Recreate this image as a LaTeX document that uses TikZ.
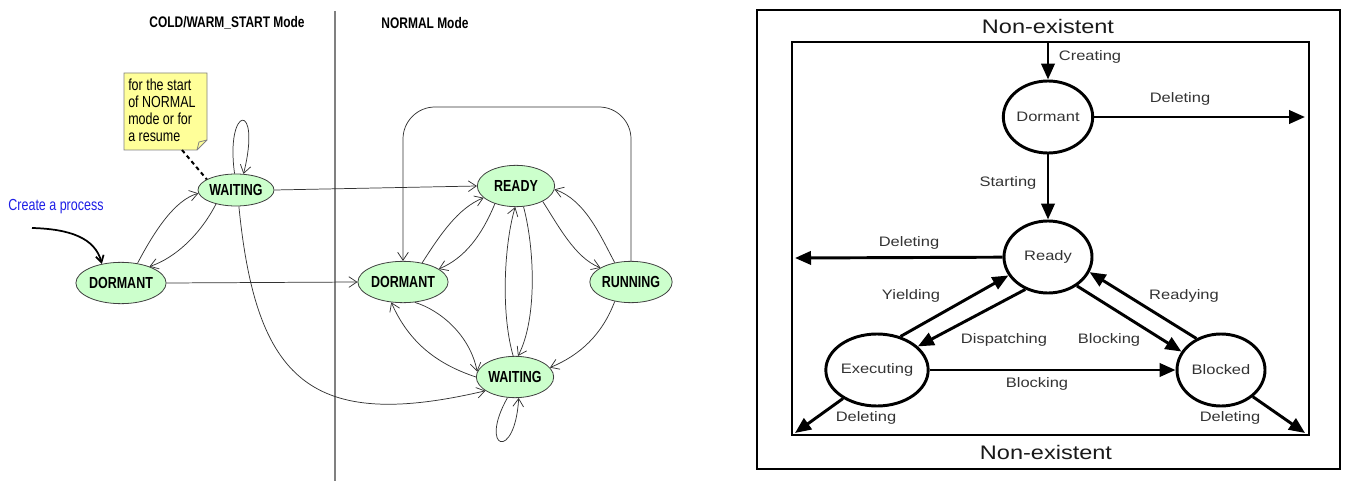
\documentclass[tikz,border=0pt]{standalone}
\usepackage{fontspec}
\setmainfont{Liberation Sans}
\newfontfamily\narrowsans[FakeStretch=0.78]{Liberation Sans}
\newfontfamily\widesans[FakeStretch=1.2]{Liberation Sans}
\usetikzlibrary{shapes.geometric,arrows.meta}

\begin{document}
\begin{tikzpicture}[x=0.75pt,y=-0.75pt,
		lstate/.style={ellipse,draw=black!75,fill=stategreen,line width=0.6pt,inner sep=0pt,
			minimum width=58pt,minimum height=31pt,font=\narrowsans\fontsize{12}{14}\selectfont\bfseries},
		ledge/.style={draw=black!80,line width=0.55pt,-{Straight Barb[length=6pt,width=8pt]}},
		ltitle/.style={font=\narrowsans\fontsize{11.5}{14}\selectfont\bfseries},
		rstate/.style={ellipse,draw,line width=2.2pt,inner sep=0pt,minimum width=66pt,minimum height=54pt,
			font=\widesans\fontsize{10.3}{12}\selectfont,text=black!80},
		rarrow/.style={line width=2.2pt,-{Triangle[length=12pt,width=10pt]}},
		rlabel/.style={font=\widesans\fontsize{10.3}{12}\selectfont,text=black!80},
		rtitle/.style={font=\widesans\fontsize{14.7}{16}\selectfont,text=black!90}]
		\definecolor{stategreen}{HTML}{CCFFCC}
		\definecolor{noteyellow}{HTML}{FFFF99}
		\definecolor{processblue}{HTML}{1E1EE6}
		
		\useasboundingbox (0,0) rectangle (1345,481);
		
		% modes
		\draw[gray,line width=1pt] (335,11) -- (335,481);
		\node[ltitle] (tcold) at (227,23) {COLD/WARM\_START Mode};
		\node[ltitle] (tnorm) at (425,23) {NORMAL Mode};
		
		% note
		\filldraw[fill=noteyellow,draw=gray,line width=0.6pt] (124,73) -- (207,73) -- (207,140) -- (197,150) -- (124,150) -- cycle;
		\draw[gray,line width=0.6pt] (197,150) -- (199,142) -- (207,140);
		\node[anchor=north west,align=left,inner sep=0pt,font=\narrowsans\fontsize{12}{12.75}\selectfont] (note) at (128,79) {for the start\\of NORMAL\\mode or for\\a resume};
		\coordinate (notetip) at (182,150);
		
		% states
		\node[lstate,minimum height=24pt,minimum width=57pt] (wl) at (236,190) {WAITING};
		\node[lstate] (dl) at (121,283) {DORMANT};
		\node[lstate] (rd) at (516,186) {READY};
		\node[lstate] (dn) at (403,282) {DORMANT};
		\node[lstate] (rn) at (631,282) {RUNNING};
		\node[lstate] (wn) at (515,377) {WAITING};
		
		\node[font=\narrowsans\fontsize{12}{14}\selectfont,text=processblue] (create) at (56,207) {Create a process};
		\coordinate (cp) at (32,228);
		
		\draw[black,line width=1.5pt,dash pattern=on 3pt off 2.5pt] (notetip) -- (wl.160);
		\draw[line width=1.3pt,-{Straight Barb[length=5pt,width=6pt]}] (cp) .. controls (70,229) and (95,238) .. (dl.135);
		
		% cold/warm start
		\draw[ledge] (wl.95) .. controls (225,105) and (262,100) .. (wl.65);
		\draw[ledge] (dl.50) .. controls (155,230) and (175,200) .. (wl.185);
		\draw[ledge] (wl.215) .. controls (200,235) and (175,258) .. (dl.30);
		\draw[ledge] (dl.east) -- (dn.west);
		\draw[ledge] (wl.east) -- (rd.west);
		\draw[ledge] (wl.280) .. controls (256,380) and (310,432) .. (wn.205);
		
		% normal
		\draw[ledge,rounded corners=24pt] (rn.north) |- (517,107) -| (dn.north);
		\draw[ledge] (dn.45) .. controls (440,235) and (458,208) .. (rd.200);
		\draw[ledge] (rd.220) .. controls (482,235) and (465,258) .. (dn.20);
		\draw[ledge] (wn.95) .. controls (500,310) and (505,240) .. (rd.268);
		\draw[ledge] (rd.290) .. controls (535,250) and (537,320) .. (wn.82);
		\draw[ledge] (rd.330) .. controls (558,225) and (575,258) .. (rn.155);
		\draw[ledge] (rn.130) .. controls (600,235) and (585,200) .. (rd.355);
		\draw[ledge] (rn.230) .. controls (602,335) and (580,355) .. (wn.15);
		\draw[ledge] (dn.300) .. controls (440,310) and (470,335) .. (wn.172);
		\draw[ledge] (wn.180) .. controls (440,365) and (410,345) .. (dn.240);
		\draw[ledge] (wn.250) .. controls (478,450) and (515,462) .. (wn.280);
		
		% task states
		\draw[line width=2.2pt] (757,10) rectangle (1340,469);
		\draw[line width=2.2pt] (792,42) rectangle (1309,435);
		\node[rtitle] (netop) at (1048,26) {Non-existent};
		\node[rtitle] (nebot) at (1046,452) {Non-existent};
		
		\node[rstate] (rdo) at (1048,117) {Dormant};
		\node[rstate] (rre) at (1048,257) {Ready};
		\node[rstate] (rex) at (877,370) {Executing};
		\node[rstate] (rbl) at (1221,370) {Blocked};
		
		\coordinate (cin) at (1048,43);
		\coordinate (dright) at (1305,117);
		\coordinate (dleft) at (795,258);
		\coordinate (dbl) at (795,433);
		\coordinate (dbr) at (1305,433);
		
		\draw[rarrow] (cin) -- (rdo);
		\draw[rarrow] (rdo) -- (dright);
		\draw[rarrow] (rdo) -- (rre);
		\draw[rarrow] (rre) -- (dleft);
		\draw[rarrow] (rex.55) -- (rre.205);
		\draw[rarrow] (rre.235) -- (rex.30);
		\draw[rarrow] (rre.315) -- (rbl.155);
		\draw[rarrow] (rbl.128) -- (rre.340);
		\draw[rarrow] (rex) -- (rbl);
		\draw[rarrow] (rex.220) -- (dbl);
		\draw[rarrow] (rbl.320) -- (dbr);
		
		% labels
		\node[rlabel] (lcreat) at (1090,57) {Creating};
		\node[rlabel] (ldel1) at (1180,99) {Deleting};
		\node[rlabel] (lstart) at (1008,183) {Starting};
		\node[rlabel] (ldel2) at (909,243) {Deleting};
		\node[rlabel] (lyield) at (911,296) {Yielding};
		\node[rlabel] (lready) at (1184,296) {Readying};
		\node[rlabel] (ldisp) at (1004,340) {Dispatching};
		\node[rlabel] (lblock1) at (1109,340) {Blocking};
		\node[rlabel] (lblock2) at (1037,384) {Blocking};
		\node[rlabel] (ldel3) at (866,418) {Deleting};
		\node[rlabel] (ldel4) at (1230,418) {Deleting};
		\end{tikzpicture}
\end{document}
